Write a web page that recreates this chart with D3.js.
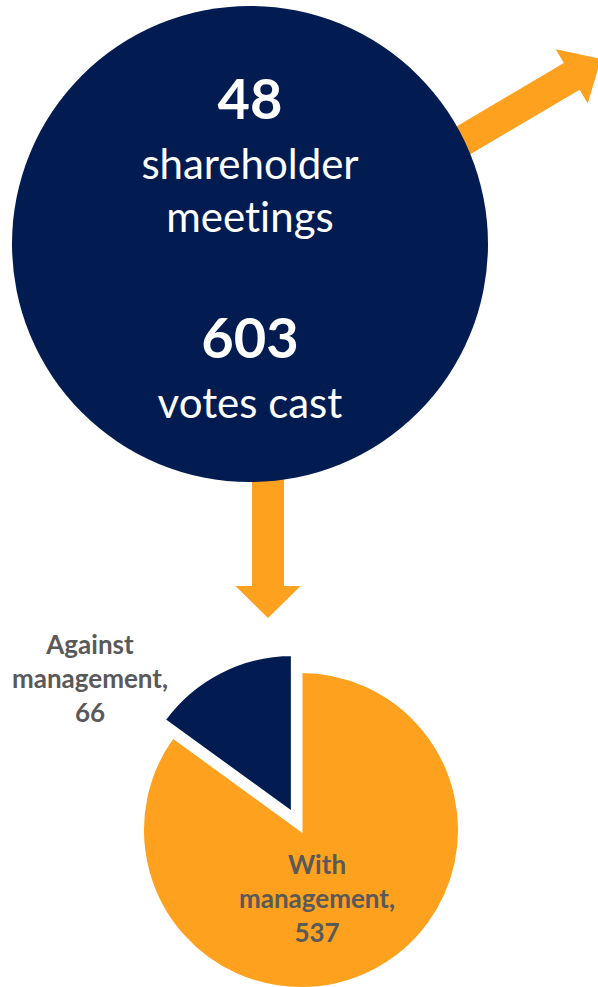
<!DOCTYPE html>
<html>
<head>
<meta charset="utf-8">
<script src="https://cdn.jsdelivr.net/npm/d3@7"></script>
<style>
  html, body { margin: 0; padding: 0; background: #fff; }
  svg { display: block; }
  text { font-variant-ligatures: none; font-feature-settings: "liga" 0, "clig" 0; }
</style>
</head>
<body>
<div id="chart"></div>
<script>
// headline figures shown in the big circle
const statValues = [48, 603];
const statLabels = [["shareholder", "meetings"], ["votes cast"]];

// vote split shown in the pie
const pieCategories = ["With management", "Against management"];
const pieValues = [537, 66];
// share of the circle each slice covers in the picture (Against wedge is ~54°)
const pieShares = [85, 15];

const W = 598, H = 987;
const NAVY = "#021c52", ORANGE = "#fea11e", GREY = "#595959";
const FONT = "Lato, 'Open Sans', sans-serif";

const svg = d3.select("#chart").append("svg")
  .attr("width", W).attr("height", H)
  .attr("viewBox", `0 0 ${W} ${H}`);

// block arrow: from start point to tip
function arrowPath(x0, y0, x1, y1, shaftW, headW, headL) {
  const dx = x1 - x0, dy = y1 - y0;
  const len = Math.hypot(dx, dy);
  const ux = dx / len, uy = dy / len;   // along
  const nx = -uy, ny = ux;              // normal
  const bx = x1 - ux * headL, by = y1 - uy * headL;
  const pts = [
    [x0 + nx * shaftW / 2, y0 + ny * shaftW / 2],
    [bx + nx * shaftW / 2, by + ny * shaftW / 2],
    [bx + nx * headW / 2, by + ny * headW / 2],
    [x1, y1],
    [bx - nx * headW / 2, by - ny * headW / 2],
    [bx - nx * shaftW / 2, by - ny * shaftW / 2],
    [x0 - nx * shaftW / 2, y0 - ny * shaftW / 2]
  ];
  return d3.line()(pts) + "Z";
}

// arrows (drawn under the circle)
const arrows = svg.append("g").attr("fill", ORANGE);
arrows.append("path").attr("d", arrowPath(410, 172, 601, 59, 31, 63, 34));
arrows.append("path").attr("d", arrowPath(268, 450, 268, 618, 32, 65, 32));

// big circle with headline figures
const cx = 250, cy = 244, R = 238;
svg.append("circle").attr("cx", cx).attr("cy", cy).attr("r", R).attr("fill", NAVY);

const txt = svg.append("g")
  .attr("fill", "#fff")
  .attr("text-anchor", "middle")
  .style("font-family", FONT);

txt.append("text").attr("x", cx).attr("y", cy - 125)
  .attr("font-size", 56).attr("font-weight", 700).text(statValues[0]);
statLabels[0].forEach((s, i) => {
  txt.append("text").attr("x", cx).attr("y", cy - 65 + i * 53)
    .attr("font-size", 42).text(s);
});
txt.append("text").attr("x", cx).attr("y", cy + 114)
  .attr("font-size", 56).attr("font-weight", 700).text(statValues[1]);
statLabels[1].forEach((s, i) => {
  txt.append("text").attr("x", cx).attr("y", cy + 174 + i * 53)
    .attr("font-size", 42).text(s);
});

// pie with the "against" slice exploded
const px = 301, py = 830, pr = 158.5, explode = 19;
const pie = d3.pie().sort(null).value((d, i) => pieShares[i]);
const arcs = pie(pieValues);
const arc = d3.arc().innerRadius(0).outerRadius(pr);
const color = d3.scaleOrdinal().domain(pieCategories).range([ORANGE, NAVY]);

const pg = svg.append("g").attr("transform", `translate(${px},${py})`);
pg.selectAll("path")
  .data(arcs)
  .enter()
  .append("path")
  .attr("d", arc)
  .attr("fill", (d, i) => color(pieCategories[i]))
  .attr("stroke", "#fff")
  .attr("stroke-width", 3)
  .attr("stroke-linejoin", "miter")
  .attr("transform", (d, i) => {
    if (i !== 1) return null;
    const a = (d.startAngle + d.endAngle) / 2;
    return `translate(${Math.sin(a) * explode},${-Math.cos(a) * explode})`;
  });

// data labels
const labelPos = [[317, 908], [90, 688]];
const lg = svg.append("g")
  .attr("fill", GREY)
  .attr("text-anchor", "middle")
  .attr("font-weight", 700)
  .attr("font-size", 26)
  .style("font-family", FONT);

pieCategories.forEach((c, i) => {
  const words = c.split(" ");
  const lines = [words[0], words.slice(1).join(" ") + ",", String(pieValues[i])];
  const t = lg.append("text");
  lines.forEach((l, j) => {
    t.append("tspan").attr("x", labelPos[i][0]).attr("y", labelPos[i][1] + (j - 1) * 34).text(l);
  });
});
</script>
</body>
</html>
